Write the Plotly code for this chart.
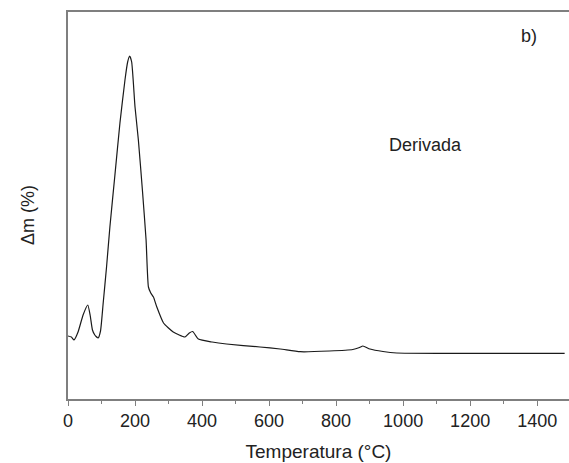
import plotly.graph_objects as go

temperature = [0, 10, 18, 30, 45, 59, 66, 73, 80, 90, 97, 105, 115, 125, 140, 155, 170, 178, 184,
               190, 200, 210, 222, 233, 240, 247, 255, 265, 285, 314, 349, 362, 372, 389, 430,
               473, 573, 633, 693, 780, 850, 870, 880, 901, 940, 981, 1130, 1300, 1482]
derivative = [63, 62, 59, 67, 84, 94, 84, 69, 64, 61, 68, 96, 132, 172, 224, 276, 319, 337, 343,
              337, 292, 259, 209, 159, 112, 106, 102, 92, 76, 67, 62, 66, 67.5, 60, 57,
              55, 52, 50, 47.3, 48, 49.5, 51.5, 53, 50, 47.5, 46, 45.7, 45.7, 45.7]

x_ticks = [0, 200, 400, 600, 800, 1000, 1200, 1400]

font = "Liberation Sans, Arial, sans-serif"
axis_col = "#7f7f7f"
FS = 18

W, H, L, T, B = 569, 463, 68, 12, 64
pw, ph = W - L, H - T - B
def px(xp, yp):
    return (xp - L) / pw, 1 - (yp - T) / ph

fig = go.Figure()
fig.add_trace(go.Scatter(x=temperature, y=derivative, mode="lines",
                         line=dict(color="#1a1a1a", width=1.2, shape="spline", smoothing=0.5),
                         showlegend=False))

ax, ay = px(529, 36)
bx, by = px(425.5, 145)
yx, yy = px(28, 215)

fig.update_layout(
    width=W, height=H,
    margin=dict(l=L, r=0, t=T, b=B),
    paper_bgcolor="white", plot_bgcolor="white",
    font=dict(family=font, size=FS, color="#222"),
    xaxis=dict(range=[0, 1495], tickvals=x_ticks, ticks="outside", ticklen=5, tickwidth=1.3,
               tickcolor=axis_col, showline=True, linecolor=axis_col, linewidth=1.5,
               mirror=True, showgrid=False, zeroline=False, automargin=False,
               minor=dict(dtick=100, tick0=0, ticks="outside", ticklen=3, tickcolor=axis_col,
                          tickwidth=1.3, showgrid=False),
               title=dict(text="Temperatura (°C)", standoff=14, font=dict(size=19)),
               tickfont=dict(size=FS)),
    yaxis=dict(range=[0, 387], showticklabels=False, ticks="", showline=True, automargin=False,
               linecolor=axis_col, linewidth=1.5, showgrid=False, zeroline=False),
    annotations=[
        dict(text="b)", x=ax, y=ay, xref="paper", yref="paper", showarrow=False,
             xanchor="center", yanchor="middle", font=dict(size=FS)),
        dict(text="Derivada", x=bx, y=by, xref="paper", yref="paper", showarrow=False,
             xanchor="center", yanchor="middle", font=dict(size=FS)),
        dict(text="Δm (%)", x=yx, y=yy, xref="paper", yref="paper", showarrow=False,
             textangle=-90, xanchor="center", yanchor="middle", font=dict(size=FS)),
    ],
)

fig.write_html("out.html", config={"displayModeBar": False},
               post_script="document.body.style.margin='0px';")
